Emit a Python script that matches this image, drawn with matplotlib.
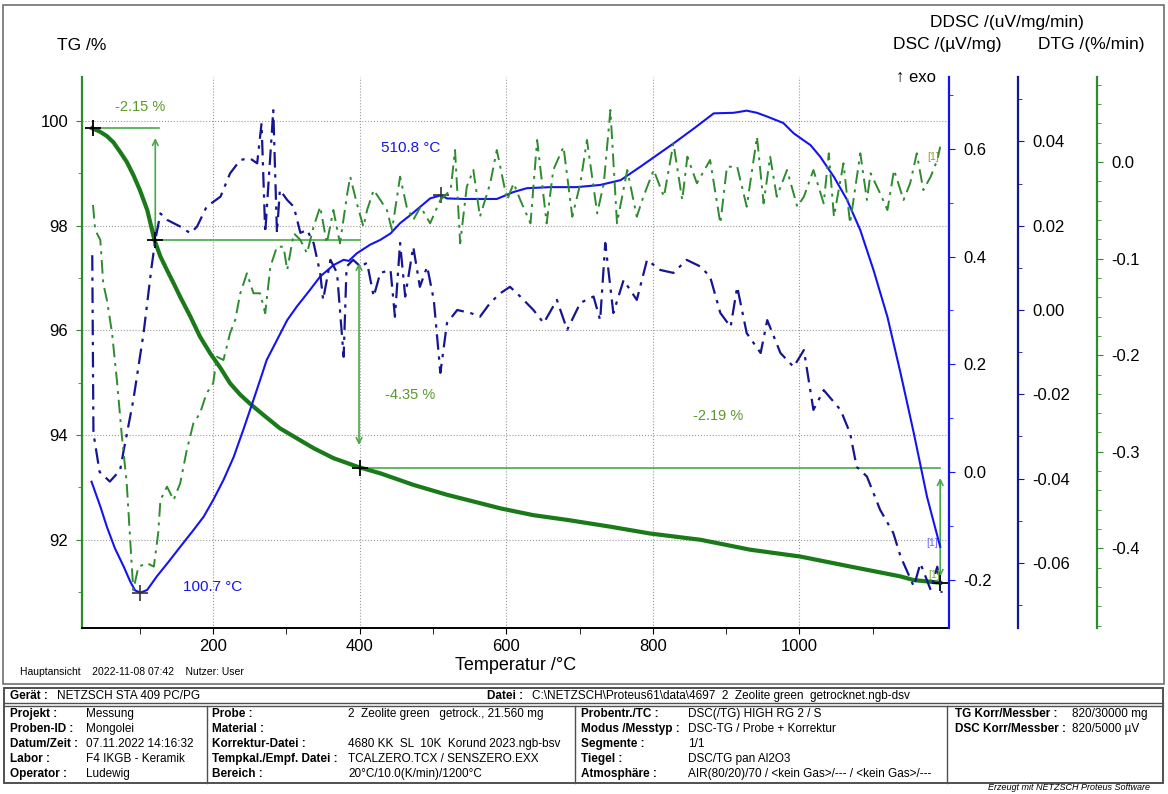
import numpy as np
import matplotlib.pyplot as plt
from matplotlib.patches import Rectangle
from matplotlib.lines import Line2D
from matplotlib.ticker import MultipleLocator, FixedLocator, FormatStrFormatter

plt.rcParams['font.family'] = ['Liberation Sans', 'DejaVu Sans']
plt.rcParams['axes.unicode_minus'] = False

# ---- data ----
tg_temp = [35, 45, 55, 64, 73, 82, 91, 100, 110, 120, 128, 137, 146, 155, 169, 182, 196, 210,
           223, 237, 251, 269, 291, 314, 337, 364, 398, 428, 473, 519, 564, 592, 637, 683, 742,
           796, 865, 933, 1001, 1069, 1138, 1156, 1192]
tg_val = [99.86, 99.80, 99.71, 99.59, 99.41, 99.22, 98.97, 98.68, 98.30, 97.72, 97.41, 97.15,
          96.90, 96.64, 96.26, 95.88, 95.56, 95.28, 94.99, 94.77, 94.59, 94.38, 94.13, 93.94,
          93.75, 93.56, 93.39, 93.27, 93.05, 92.86, 92.70, 92.60, 92.47, 92.38, 92.25, 92.12,
          92.00, 91.81, 91.68, 91.49, 91.30, 91.23, 91.18]

dsc_temp = [34, 46, 55, 66, 78, 87, 93.5, 101, 110, 123, 139, 155, 173, 187, 200, 214, 228, 241,
            255, 267, 273, 287, 301, 314, 332, 346, 364, 378, 385, 396, 414, 428, 442, 455, 469,
            483, 496, 511, 519, 542, 587, 610, 628, 660, 696, 728, 756, 783, 806, 828, 856, 883,
            910, 928, 942, 956, 978, 992, 1015, 1028, 1047, 1065, 1083, 1101, 1120, 1138, 1156,
            1174, 1192]
dsc_val = [-0.018, -0.064, -0.102, -0.142, -0.176, -0.204, -0.220, -0.224, -0.219, -0.194,
           -0.167, -0.139, -0.108, -0.083, -0.052, -0.015, 0.028, 0.078, 0.134, 0.183, 0.208,
           0.245, 0.282, 0.307, 0.338, 0.363, 0.384, 0.394, 0.392, 0.406, 0.422, 0.431, 0.443,
           0.462, 0.477, 0.493, 0.508, 0.514, 0.508, 0.507, 0.507, 0.520, 0.527, 0.529, 0.529,
           0.533, 0.542, 0.567, 0.589, 0.610, 0.638, 0.666, 0.667, 0.671, 0.667, 0.660, 0.648,
           0.629, 0.607, 0.586, 0.548, 0.505, 0.449, 0.375, 0.288, 0.183, 0.072, -0.046, -0.139]

ddsc_temp = [35, 36.6, 45, 59, 73, 78, 91, 105, 116, 121, 128, 137, 155, 169, 178, 191, 210, 223,
             237, 250, 260, 266, 271, 282, 287, 291, 301, 310, 319, 328, 337, 346, 350, 360, 369,
             378, 382, 391, 401, 410, 419, 428, 442, 448, 455, 462, 473, 482, 492, 501, 510, 519,
             533, 551, 564, 578, 592, 605, 619, 637, 651, 669, 683, 701, 719, 728, 735, 746, 760,
             778, 792, 810, 828, 846, 865, 878, 892, 906, 915, 928, 947, 956, 974, 992, 1006,
             1019, 1033, 1056, 1069, 1078, 1092, 1110, 1128, 1138, 1156, 1165, 1179, 1188, 1194]
ddsc_val = [0.0130, -0.0292, -0.0384, -0.0407, -0.0380, -0.0332, -0.0214, -0.0055, 0.0103,
            0.0166, 0.0229, 0.0214, 0.0198, 0.0182, 0.0198, 0.0245, 0.0269, 0.0324, 0.0356,
            0.0360, 0.0348, 0.0443, 0.0183, 0.0474, 0.0183, 0.0285, 0.0261, 0.0245, 0.0183,
            0.0190, 0.0159, 0.0088, 0.0024, 0.0119, 0.0088, -0.0111, 0.0103, 0.0119, 0.0103,
            0.0112, 0.0032, 0.0088, 0.0095, -0.0016, 0.0159, 0.0032, 0.0150, 0.0055, 0.0103,
            0.0024, -0.0149, -0.0031, 0.0000, -0.0007, -0.0016, 0.0017, 0.0040, 0.0055, 0.0032,
            0.0000, -0.0031, 0.0024, -0.0047, 0.0017, 0.0032, -0.0024, 0.0159, -0.0007, 0.0071,
            0.0024, 0.0119, 0.0095, 0.0088, 0.0119, 0.0103, 0.0079, -0.0007, -0.0040, 0.0055,
            -0.0055, -0.0102, -0.0024, -0.0102, -0.0135, -0.0095, -0.0237, -0.0190, -0.0237,
            -0.0292, -0.0372, -0.0395, -0.0474, -0.0529, -0.0585, -0.0656, -0.0601, -0.0664,
            -0.0609, -0.0671]

dtg_temp = [36, 39, 46, 50, 55, 62, 69, 75, 82, 89, 91, 98, 110, 119, 125, 128, 137, 146, 155,
            164, 173, 182, 191, 200, 205, 214, 223, 230, 237, 246, 255, 264, 271, 278, 287, 296,
            301, 310, 319, 328, 337, 346, 355, 364, 373, 383, 387, 396, 405, 410, 419, 428, 437,
            444, 455, 464, 473, 483, 496, 510, 524, 530, 537, 546, 555, 564, 578, 587, 601, 610,
            619, 633, 642, 655, 664, 678, 690, 701, 710, 724, 733, 742, 751, 765, 778, 787, 801,
            815, 828, 840, 847, 860, 878, 892, 901, 915, 928, 942, 951, 960, 969, 983, 997, 1006,
            1019, 1033, 1040, 1047, 1060, 1069, 1083, 1092, 1097, 1110, 1120, 1129, 1142, 1151,
            1160, 1169, 1179, 1188, 1192]
dtg_val = [-0.0445, -0.0704, -0.0807, -0.1256, -0.1429, -0.1770, -0.2288, -0.2805, -0.3323,
           -0.4189, -0.4431, -0.4189, -0.4154, -0.4189, -0.3841, -0.3499, -0.3361, -0.3499,
           -0.3326, -0.2981, -0.2705, -0.2601, -0.2394, -0.2291, -0.2016, -0.2050, -0.1773,
           -0.1636, -0.1359, -0.1152, -0.1359, -0.1359, -0.1566, -0.1084, -0.0877, -0.0877,
           -0.1118, -0.0738, -0.0807, -0.0945, -0.0670, -0.0463, -0.0842, -0.0497, -0.0842,
           -0.0324, -0.0152, -0.0428, -0.0670, -0.0497, -0.0290, -0.0393, -0.0497, -0.0704,
           -0.0152, -0.0463, -0.0600, -0.0463, -0.0635, -0.0393, -0.0290, 0.0124, -0.0842,
           -0.0256, -0.0083, -0.0566, -0.0220, 0.0124, -0.0393, -0.0220, -0.0393, -0.0635,
           0.0228, -0.0635, -0.0083, 0.0158, -0.0566, -0.0220, 0.0228, -0.0531, -0.0220,
           0.0538, -0.0635, -0.0083, -0.0566, -0.0359, -0.0083, -0.0359, 0.0194, -0.0393,
           0.0055, -0.0220, 0.0021, -0.0635, -0.0049, -0.0049, -0.0463, 0.0262, -0.0428,
           0.0055, -0.0359, -0.0083, -0.0463, -0.0359, -0.0083, -0.0428, 0.0090, -0.0566,
           -0.0013, -0.0635, 0.0090, -0.0393, -0.0117, -0.0324, -0.0497, -0.0083, -0.0393,
           -0.0220, 0.0090, -0.0290, -0.0152, 0.0021, 0.0158]

# TG steps
step_t = [36, 120, 400, 1192]
step_tg = [99.87, 97.72, 93.37, 91.18]
step_labels = ['-2.15 %', '-4.35 %', '-2.19 %']
dsc_peaks_t = [100.7, 510.8]
dsc_peaks_v = [-0.224, 0.514]

W, H = 1168, 794
green = '#2e8b2e'
tgc = '#1a7a1a'
blue = '#1414f0'
navy = '#161690'
stepc = '#4aa84a'
labc = '#5a9a28'

fig = plt.figure(figsize=(W / 100, H / 100), dpi=100)


def fx(x):
    return x / W


def fy(y):
    return 1 - y / H


ax = fig.add_axes([fx(82), fy(628), (949 - 82) / W, (628 - 77) / H])
ax.set_xlim(21, 1204)
ax.set_ylim(90.315, 100.84)
ax.plot(tg_temp, tg_val, color=tgc, lw=3, zorder=5, solid_joinstyle='round')
ax.set_xticks([200, 400, 600, 800, 1000])
ax.xaxis.set_minor_locator(FixedLocator([100, 300, 500, 700, 900, 1100]))
ax.set_yticks([92, 94, 96, 98, 100])
ax.yaxis.set_minor_locator(MultipleLocator(1))
ax.grid(True, which='major', ls=':', color='#999999', lw=0.8)
for s in ['top', 'right']:
    ax.spines[s].set_visible(False)
ax.spines['left'].set_color(green)
ax.spines['left'].set_linewidth(1.6)
ax.spines['bottom'].set_linewidth(1.4)
ax.tick_params(axis='y', which='both', colors=green, labelcolor='black', labelsize=12, length=4, pad=6)
ax.tick_params(axis='y', which='minor', length=3)
ax.tick_params(axis='x', which='both', labelsize=12, length=4, pad=4)
ax.set_xlabel('Temperatur /°C', fontsize=13, labelpad=2)

# mass loss steps
for i in range(3):
    ax.plot([step_t[i], step_t[i + 1] + (6 if i == 0 else 0)], [step_tg[i], step_tg[i]],
            color=stepc, lw=1.2, zorder=4)
ax.annotate('', xy=(121, 99.675), xytext=(121, 97.82),
            arrowprops=dict(arrowstyle='<->', color=stepc, lw=1.2, shrinkA=0, shrinkB=0))
ax.annotate('', xy=(399, 97.29), xytext=(399, 93.81),
            arrowprops=dict(arrowstyle='<->', color=stepc, lw=1.2, shrinkA=0, shrinkB=0))
ax.annotate('', xy=(1192, 93.18), xytext=(1192, 91.29),
            arrowprops=dict(arrowstyle='<->', color=stepc, lw=1.2, shrinkA=0, shrinkB=0))
ax.plot(step_t, step_tg, ls='none', marker='+', ms=12, mew=1.3, color='black', zorder=6)
ax.text(100, 100.27, step_labels[0], color=labc, fontsize=10.5, ha='center', va='center')
ax.text(469, 94.77, step_labels[1], color=labc, fontsize=10.5, ha='center', va='center')
ax.text(889, 94.36, step_labels[2], color=labc, fontsize=10.5, ha='center', va='center')

# DSC
ax2 = ax.twinx()
ax2.set_ylim(-0.2897, 0.7335)
ax2.plot(dsc_temp, dsc_val, color=blue, lw=1.5)
ax2.plot(dsc_peaks_t, dsc_peaks_v, ls='none', marker='+', ms=12, mew=1.2, color='#333333')
ax2.text(469, 0.602, '510.8 °C', color=blue, fontsize=11, ha='center', va='center')
ax2.text(199, -0.2136, '100.7 °C', color=blue, fontsize=11, ha='center', va='center')
ax2.yaxis.set_major_locator(MultipleLocator(0.2))
ax2.yaxis.set_minor_locator(MultipleLocator(0.1))
ax2.yaxis.set_major_formatter(FormatStrFormatter('%.1f'))

# DDSC
ax3 = ax.twinx()
ax3.set_ylim(-0.07544, 0.05528)
ax3.plot(ddsc_temp, ddsc_val, color=navy, lw=1.6, ls=(0, (7, 3, 1.5, 3)))
ax3.spines['right'].set_position(('axes', 1.0796))
ax3.yaxis.set_major_locator(MultipleLocator(0.02))
ax3.yaxis.set_minor_locator(MultipleLocator(0.01))
ax3.yaxis.set_major_formatter(FormatStrFormatter('%.2f'))

# DTG
ax4 = ax.twinx()
ax4.set_ylim(-0.4824, 0.088)
ax4.plot(dtg_temp, dtg_val, color=green, lw=1.4, ls=(0, (7, 3, 1.5, 3)))
ax4.spines['right'].set_position(('axes', 1.1707))
ax4.yaxis.set_major_locator(MultipleLocator(0.1))
ax4.yaxis.set_minor_locator(MultipleLocator(0.02))
ax4.yaxis.set_major_formatter(FormatStrFormatter('%.1f'))

for a, c in [(ax2, blue), (ax3, navy), (ax4, green)]:
    for s in ['top', 'bottom', 'left']:
        a.spines[s].set_visible(False)
    a.spines['right'].set_color(c)
    a.spines['right'].set_linewidth(1.6)
    a.tick_params(axis='y', which='both', colors=c, labelcolor='black', labelsize=12, length=4, pad=6)
    a.tick_params(axis='y', which='minor', length=3)

# axis titles
fig.text(fx(57), fy(45), 'TG /%', fontsize=12.5, va='center')
fig.text(fx(893), fy(45), 'DSC /(µV/mg)', fontsize=12.5, va='center')
fig.text(fx(1038), fy(45), 'DTG /(%/min)', fontsize=12.5, va='center')
fig.text(fx(930), fy(22), 'DDSC /(uV/mg/min)', fontsize=12.5, va='center')
fig.text(fx(896), fy(77), '↑ exo', fontsize=12, va='center')
fig.text(fx(926), fy(543), '[1]', fontsize=7.5, color='#6a6aff', va='center')
fig.text(fx(927), fy(157), '[1]', fontsize=7.5, color='#9a9a30', va='center')
fig.text(fx(928), fy(575), '[1]', fontsize=7.5, color='#7aaa40', va='center')
fig.text(fx(20), fy(672), 'Hauptansicht    2022-11-08 07:42    Nutzer: User', fontsize=7.5, va='center')

# frames
t_top, t_bot = 688, 783
fig.add_artist(Rectangle((fx(3), fy(684)), fx(1161), (684 - 5) / H, transform=fig.transFigure,
                         fill=False, ec='#707070', lw=1.2))
fig.add_artist(Rectangle((fx(4), fy(t_bot)), fx(1159), (t_bot - t_top) / H, transform=fig.transFigure,
                         fill=False, ec='#505050', lw=1.4))
for yy in [703, 706]:
    fig.add_artist(Line2D([fx(4), fx(1163)], [fy(yy), fy(yy)], color='#505050', lw=1))
for xx in [207, 575, 947]:
    fig.add_artist(Line2D([fx(xx), fx(xx)], [fy(706), fy(t_bot)], color='#505050', lw=1))

# info table
fs = 8.5
fig.text(fx(10), fy(696), 'Gerät :', fontsize=fs, weight='bold', va='center')
fig.text(fx(57), fy(696), 'NETZSCH STA 409 PC/PG', fontsize=fs, va='center')
fig.text(fx(487), fy(696), 'Datei :', fontsize=fs, weight='bold', va='center')
fig.text(fx(532), fy(696), 'C:\\NETZSCH\\Proteus61\\data\\4697  2  Zeolite green  getrocknet.ngb-dsv',
         fontsize=fs, va='center')

row_y = [714, 729, 744, 759, 774]
col1_lab = ['Projekt :', 'Proben-ID :', 'Datum/Zeit :', 'Labor :', 'Operator :']
col1_val = ['Messung', 'Mongolei', '07.11.2022 14:16:32', 'F4 IKGB - Keramik', 'Ludewig']
col2_lab = ['Probe :', 'Material :', 'Korrektur-Datei :', 'Tempkal./Empf. Datei :', 'Bereich :']
col2_val = ['2  Zeolite green   getrock., 21.560 mg', '', '4680 KK  SL  10K  Korund 2023.ngb-bsv',
            'TCALZERO.TCX / SENSZERO.EXX', '20°C/10.0(K/min)/1200°C']
col3_lab = ['Probentr./TC :', 'Modus /Messtyp :', 'Segmente :', 'Tiegel :', 'Atmosphäre :']
col3_val = ['DSC(/TG) HIGH RG 2 / S', 'DSC-TG / Probe + Korrektur', '1/1', 'DSC/TG pan Al2O3',
            'AIR(80/20)/70 / <kein Gas>/--- / <kein Gas>/---']
col4_lab = ['TG Korr/Messber :', 'DSC Korr/Messber :']
col4_val = ['820/30000 mg', '820/5000 µV']

for i, yy in enumerate(row_y):
    fig.text(fx(10), fy(yy), col1_lab[i], fontsize=fs, weight='bold', va='center')
    fig.text(fx(86), fy(yy), col1_val[i], fontsize=fs, va='center')
    fig.text(fx(212), fy(yy), col2_lab[i], fontsize=fs, weight='bold', va='center')
    fig.text(fx(348), fy(yy), col2_val[i], fontsize=fs, va='center')
    fig.text(fx(581), fy(yy), col3_lab[i], fontsize=fs, weight='bold', va='center')
    fig.text(fx(688), fy(yy), col3_val[i], fontsize=fs, va='center')
for i in range(2):
    fig.text(fx(955), fy(row_y[i]), col4_lab[i], fontsize=fs, weight='bold', va='center')
    fig.text(fx(1072), fy(row_y[i]), col4_val[i], fontsize=fs, va='center')

fig.text(fx(1150), fy(792.5), 'Erzeugt mit NETZSCH Proteus Software', fontsize=6.5, style='italic',
         ha='right', va='bottom')

fig.savefig('out.png', dpi=100)
